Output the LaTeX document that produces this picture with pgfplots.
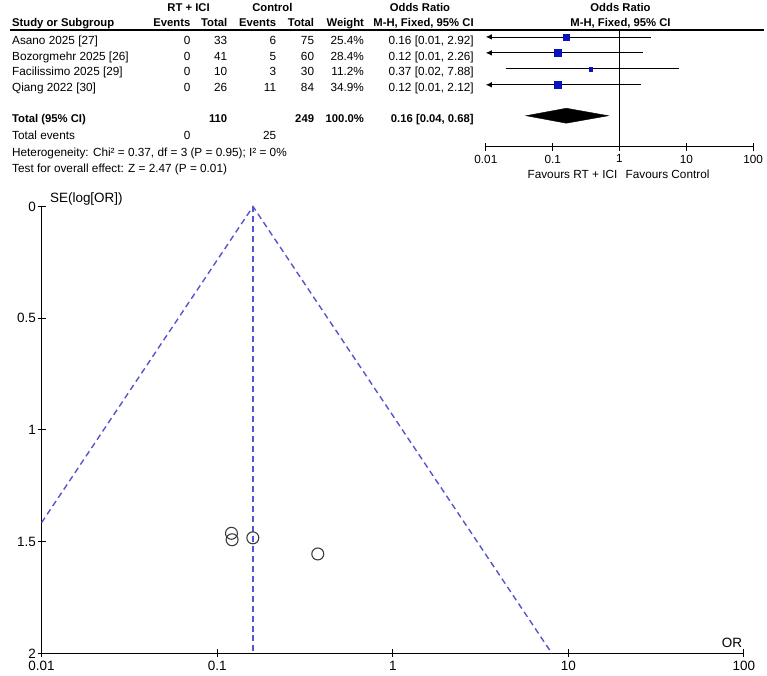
\documentclass[border=0pt]{standalone}
\usepackage{pgfplots}
\pgfplotsset{compat=1.18}
\usepackage{fontspec}
\setmainfont{Liberation Sans}
\usetikzlibrary{arrows.meta}
\definecolor{fblue}{RGB}{85,85,205}
\definecolor{sqblue}{RGB}{10,20,190}
\definecolor{circ}{RGB}{60,60,60}

\begin{document}
\begin{tikzpicture}[
  tb/.style={font=\fontsize{11.8}{13}\selectfont, inner sep=0pt},
  tbb/.style={font=\fontsize{11.3}{13}\selectfont\bfseries, inner sep=0pt},
  big/.style={font=\fontsize{13.5}{15}\selectfont, inner sep=0pt}]
\begin{scope}[x=1pt,y=-1pt]
\path (0,0) rectangle (767,677);

% ---------- table headers ----------
\node[tbb, anchor=base] at (189,12) {RT + ICI};
\node[tbb, anchor=base] at (273,12) {Control};
\node[tbb, anchor=base] at (421,12) {Odds Ratio};
\node[tbb, anchor=base] at (622,12) {Odds Ratio};
\node[tbb, anchor=base west] at (12,27) {Study or Subgroup};
\node[tbb, anchor=base east] at (191,27) {Events};
\node[tbb, anchor=base east] at (228,27) {Total};
\node[tbb, anchor=base east] at (277,27) {Events};
\node[tbb, anchor=base east] at (315,27) {Total};
\node[tbb, anchor=base east] at (365,27) {Weight};
\node[tbb, anchor=base east] at (475,27) {M-H, Fixed, 95\% CI};
\node[tbb, anchor=base] at (622,27) {M-H, Fixed, 95\% CI};
\draw[line width=1.2pt] (10,30) -- (766,30);

% ---------- study rows ----------
\node[tb, anchor=base west] at (12,44.5) {Asano 2025 [27]};
\node[tb, anchor=base east] at (191,44.5) {0};
\node[tb, anchor=base east] at (228,44.5) {33};
\node[tb, anchor=base east] at (277,44.5) {6};
\node[tb, anchor=base east] at (315,44.5) {75};
\node[tb, anchor=base east] at (365,44.5) {25.4\%};
\node[tb, anchor=base east] at (475,44.5) {0.16 [0.01, 2.92]};

\node[tb, anchor=base west] at (12,60.5) {Bozorgmehr 2025 [26]};
\node[tb, anchor=base east] at (191,60.5) {0};
\node[tb, anchor=base east] at (228,60.5) {41};
\node[tb, anchor=base east] at (277,60.5) {5};
\node[tb, anchor=base east] at (315,60.5) {60};
\node[tb, anchor=base east] at (365,60.5) {28.4\%};
\node[tb, anchor=base east] at (475,60.5) {0.12 [0.01, 2.26]};

\node[tb, anchor=base west] at (12,76) {Facilissimo 2025 [29]};
\node[tb, anchor=base east] at (191,76) {0};
\node[tb, anchor=base east] at (228,76) {10};
\node[tb, anchor=base east] at (277,76) {3};
\node[tb, anchor=base east] at (315,76) {30};
\node[tb, anchor=base east] at (365,76) {11.2\%};
\node[tb, anchor=base east] at (475,76) {0.37 [0.02, 7.88]};

\node[tb, anchor=base west] at (12,92) {Qiang 2022 [30]};
\node[tb, anchor=base east] at (191,92) {0};
\node[tb, anchor=base east] at (228,92) {26};
\node[tb, anchor=base east] at (277,92) {11};
\node[tb, anchor=base east] at (315,92) {84};
\node[tb, anchor=base east] at (365,92) {34.9\%};
\node[tb, anchor=base east] at (475,92) {0.12 [0.01, 2.12]};

% ---------- totals ----------
\node[tbb, anchor=base west] at (12,123) {Total (95\% CI)};
\node[tbb, anchor=base east] at (228,123) {110};
\node[tbb, anchor=base east] at (315,123) {249};
\node[tbb, anchor=base east] at (365,123) {100.0\%};
\node[tbb, anchor=base east] at (475,123) {0.16 [0.04, 0.68]};
\node[tb, anchor=base west] at (12,140) {Total events};
\node[tb, anchor=base east] at (191,140) {0};
\node[tb, anchor=base east] at (277,140) {25};
\node[tb, anchor=base west] at (12,156.5) {Heterogeneity: Chi² = 0.37, df = 3 (P = 0.95); I² = 0\%};
\node[tb, anchor=base west] at (12,172.5) {Test for overall effect: Z = 2.47 (P = 0.01)};
\node[tb, anchor=base east] at (619,178.5) {Favours RT + ICI};
\node[tb, anchor=base west] at (627,178.5) {Favours Control};

\node[big, anchor=west] at (50,199) {SE(log[OR])};
\node[big, anchor=base east] at (744,649) {OR};
\end{scope}

% ---------- forest axis ----------
\begin{axis}[at={(487pt,-147pt)}, anchor=south west, scale only axis,
  width=268pt, height=116pt,
  xmode=log, xmin=0.01, xmax=100, ymin=-147, ymax=-31,
  axis x line=bottom, axis y line=none,
  axis line style={-, line width=0.9pt},
  xtick={0.01,0.1,1,10,100}, xticklabels={0.01,0.1,1,10,100},
  xminorticks=false, tick align=center, major tick length=8pt,
  tick style={black, line width=0.9pt},
  xticklabel style={font=\fontsize{11.8}{13}\selectfont, inner sep=4pt},
  clip=false]
\addplot[black, line width=0.9pt] coordinates {(1,-31) (1,-147)};
% confidence intervals
\addplot[black, line width=0.8pt, {Latex[length=6pt,width=5.5pt]}-] coordinates {(0.01,-37) (2.92,-37)};
\addplot[black, line width=0.8pt, {Latex[length=6pt,width=5.5pt]}-] coordinates {(0.01,-53) (2.26,-53)};
\addplot[black, line width=0.8pt] coordinates {(0.02,-69) (7.88,-69)};
\addplot[black, line width=0.8pt, {Latex[length=6pt,width=5.5pt]}-] coordinates {(0.01,-85) (2.12,-85)};
% point estimates
\addplot[only marks, mark=square*, mark size=3pt, sqblue] coordinates {(0.16,-37)};
\addplot[only marks, mark=square*, mark size=3.3pt, sqblue] coordinates {(0.12,-53)};
\addplot[only marks, mark=square*, mark size=1.9pt, sqblue] coordinates {(0.37,-69)};
\addplot[only marks, mark=square*, mark size=3.6pt, sqblue] coordinates {(0.12,-85)};
% pooled diamond
\addplot[fill=black, draw=black] coordinates {(0.04,-116) (0.16,-108.5) (0.68,-116) (0.16,-123.5)} -- cycle;
\end{axis}

% ---------- funnel axis ----------
\begin{axis}[at={(41.7pt,-655pt)}, anchor=south west, scale only axis,
  width=704pt, height=448pt,
  xmode=log, xmin=0.01, xmax=100, ymin=-2, ymax=0,
  axis x line=bottom, axis y line=left,
  axis line style={-, line width=1pt},
  xtick={0.01,0.1,1,10,100}, xticklabels={0.01,0.1,1,10,100},
  ytick={-2,-1.5,-1,-0.5,0}, yticklabels={2,1.5,1,0.5,0},
  xminorticks=false, tick align=center, major tick length=8pt,
  tick style={black, line width=1pt},
  xticklabel style={font=\fontsize{13.5}{15}\selectfont, inner sep=3.5pt},
  yticklabel style={font=\fontsize{13.5}{15}\selectfont, inner sep=1.5pt},
  clip=false]
\addplot[draw=fblue, line width=1.4pt, dash pattern=on 6pt off 4pt] coordinates {(0.01,-1.4146) (0.16,0) (8.06,-2)};
\addplot[draw=fblue, line width=1.4pt, dash pattern=on 6pt off 4pt] coordinates {(0.16,0) (0.16,-1.99)};
\addplot[only marks, mark=o, mark size=6pt, draw=circ, line width=1.1pt]
  table[row sep=\\, x=or, y expr=-\thisrow{se}] {
  or se\\
  0.1596 1.4826\\
  0.1216 1.4913\\
  0.3741 1.5548\\
  0.1206 1.4623\\
  };
\end{axis}
\end{tikzpicture}
\end{document}
